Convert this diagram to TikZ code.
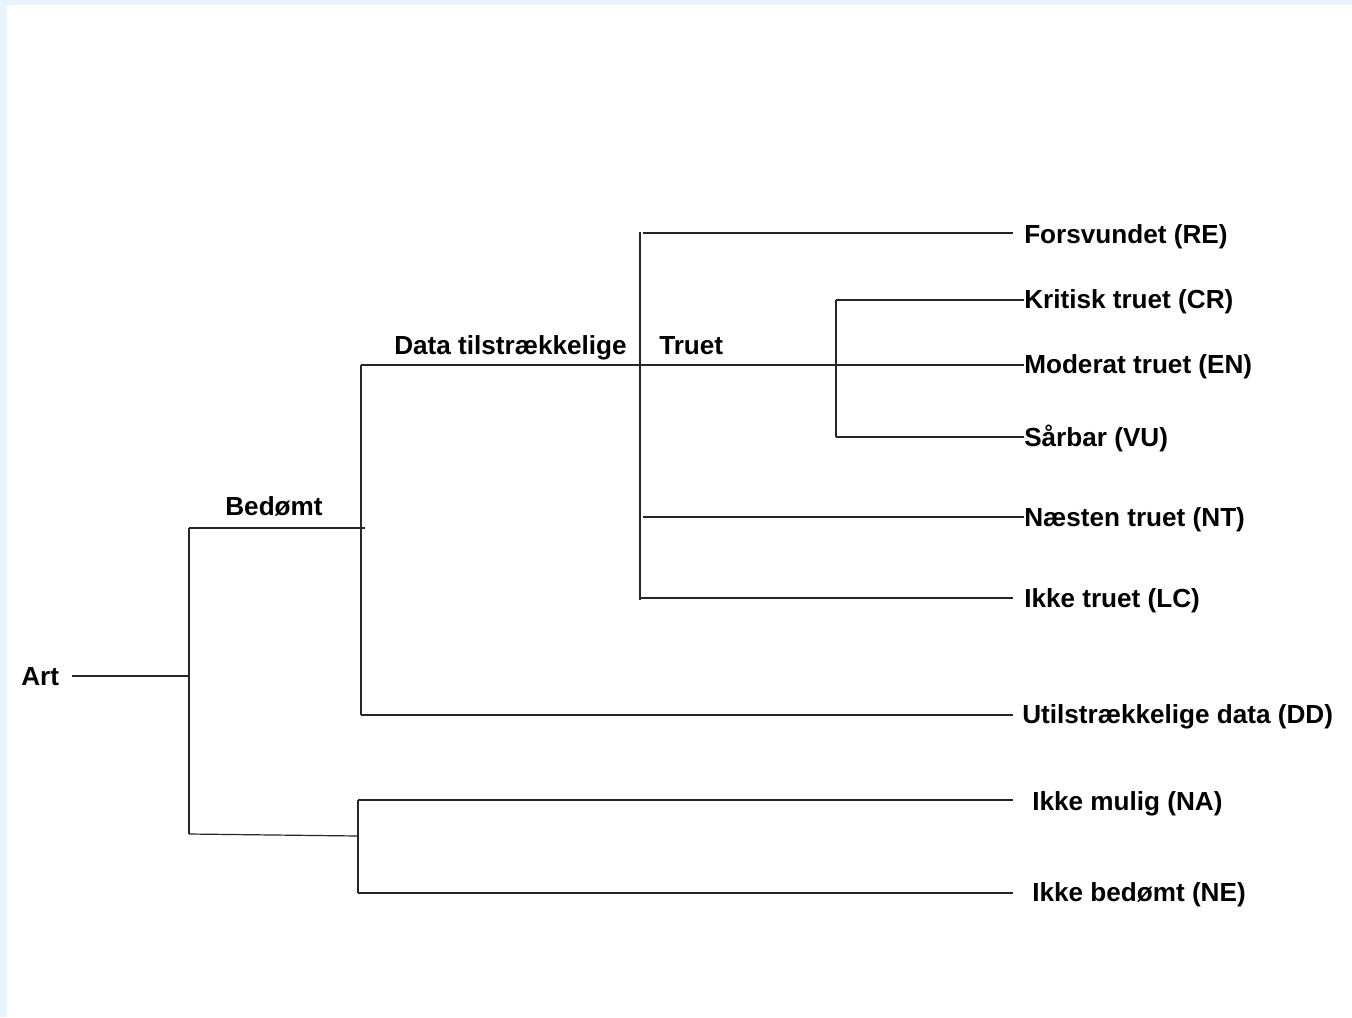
\documentclass[tikz,border=0pt]{standalone}
\usepackage{fontspec}
\setmainfont{Liberation Sans}
\usetikzlibrary{positioning}
\definecolor{rimblue}{HTML}{E8F4FD}
\tikzset{
  lbl/.style={anchor=base west,inner sep=0pt,font=\fontsize{19.6}{23}\selectfont\bfseries},
  mid/.style={lbl,anchor=base},
  tree/.style={line width=0.9pt,black!85}
}

\begin{document}
\begin{tikzpicture}[x=0.75pt,y=-0.75pt]
\fill[rimblue] (0,0) rectangle (1352,1017);
\fill[white] (7,5) rectangle (1352,1017);
\useasboundingbox (0,0) rectangle (1352,1017);
% labels
\node[lbl] (art) at (21,685) {Art};
\node[mid] (bed) at (274,515) {Bedømt};
\node[lbl] (dat) at (394,354) {Data tilstrækkelige};
\node[lbl] (tru) at (659,354) {Truet};
\node[lbl] (re) at (1024,243) {Forsvundet (RE)};
\node[lbl] (cr) at (1024,308) {Kritisk truet (CR)};
\node[lbl] (en) at (1024,373) {Moderat truet (EN)};
\node[lbl] (vu) at (1024,446) {Sårbar (VU)};
\node[lbl] (nt) at (1024,526) {Næsten truet (NT)};
\node[lbl] (lc) at (1024,607) {Ikke truet (LC)};
\node[lbl] (dd) at (1022,723) {Utilstrækkelige data (DD)};
\node[lbl] (na) at (1032,810) {Ikke mulig (NA)};
\node[lbl] (ne) at (1032,901) {Ikke bedømt (NE)};
% junctions
\coordinate (art0) at (72,676);
\coordinate (a0) at (189,676);
\coordinate (a1) at (189,528);
\coordinate (a2) at (189,834);
\coordinate (b1) at (361,365);
\coordinate (b2) at (361,715);
\coordinate (c1) at (358,800);
\coordinate (c2) at (358,893);
\coordinate (d1) at (640,232);
\coordinate (d2) at (640,600);
\coordinate (e1) at (836,300);
\coordinate (e2) at (836,437);
% tree
\draw[tree] (art0) -- (a0);
\draw[tree] (a1) -- (a2);
\draw[tree] (a1) -- (365,528);
\draw[tree] (a2) -- (358,836);
\draw[tree] (b1) -- (b2);
\draw[tree] (c1) -- (c2);
\draw[tree] (d1) -- (d2);
\draw[tree] (e1) -- (e2);
\draw[tree] (b1) -- (en.west |- b1);
\draw[tree] (b2) -- (1013,715);
\draw[tree] (c1) -- (1013,800);
\draw[tree] (c2) -- (1013,893);
\draw[tree] (643,233) -- (1013,233);
\draw[tree] (e1) -- (cr.west |- e1);
\draw[tree] (e2) -- (vu.west |- e2);
\draw[tree] (643,517) -- (nt.west |- 0,517);
\draw[tree] (640,598) -- (1013,598);
\end{tikzpicture}
\end{document}
